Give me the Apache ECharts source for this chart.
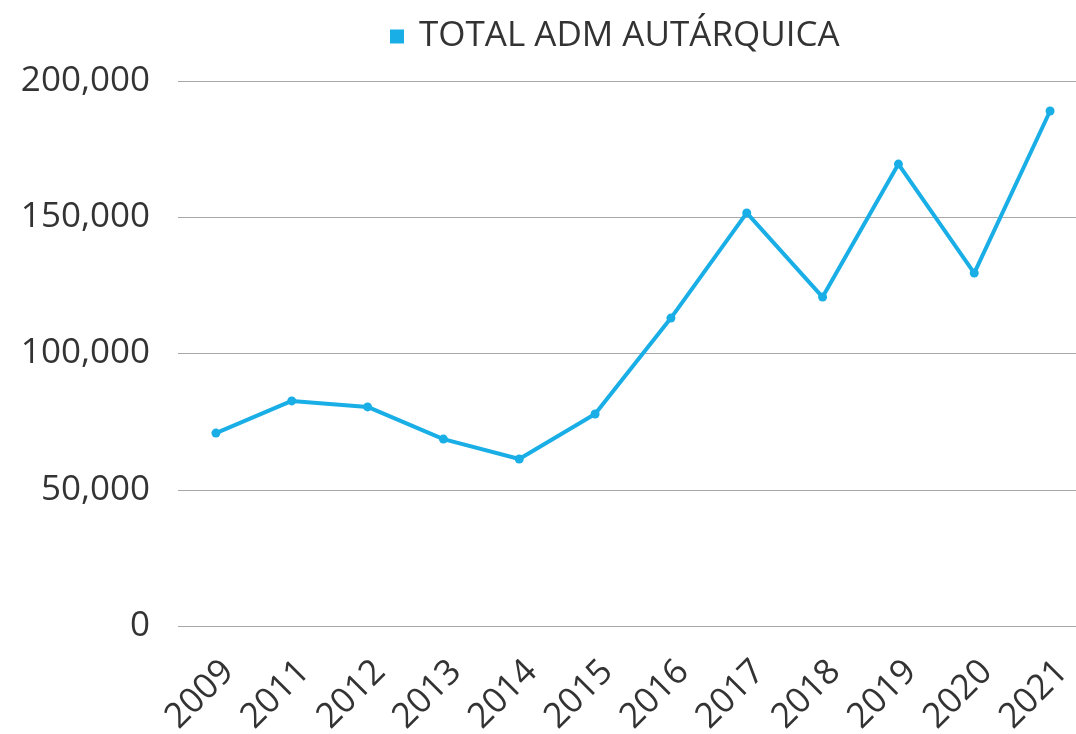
<!DOCTYPE html>
<html>
<head>
<meta charset="utf-8">
<script src="https://cdn.jsdelivr.net/npm/echarts@6/dist/echarts.min.js"></script>
<style>
  html, body { margin: 0; padding: 0; background: #fff; }
  #chart { width: 1076px; height: 734px; }
</style>
</head>
<body>
<div id="chart"></div>
<script>
// anos (2010 não aparece no original)
const years = ['2009', '2011', '2012', '2013', '2014', '2015', '2016', '2017', '2018', '2019', '2020', '2021']
const totalAdm = [70800, 82600, 80400, 68600, 61300, 77800, 113000, 151600, 120700, 169500, 129500, 189000]
const seriesName = 'TOTAL ADM AUTÁRQUICA'

const el = document.getElementById('chart')
const chart = echarts.init(el)
const blue = '#19aee6'
const font = '"Open Sans", sans-serif'

const option = {
  animation: false,
  textStyle: { fontFamily: font },
  legend: {
    data: [seriesName],
    left: 385,
    top: 14,
    itemWidth: 14,
    itemHeight: 14,
    icon: 'rect',
    textStyle: { fontSize: 35, color: '#333', fontFamily: font, padding: [0, 0, 0, 10] }
  },
  grid: {
    left: 178,
    top: 81,
    right: -12,
    bottom: 108,
    containLabel: false,
    outerBoundsMode: 'none'
  },
  xAxis: {
    type: 'category',
    data: years,
    boundaryGap: true,
    axisLine: { show: false },
    axisTick: { show: false },
    axisLabel: {
      rotate: 45,
      margin: 28,
      fontSize: 35,
      verticalAlign: 'top',
      color: '#333',
      fontFamily: font
    }
  },
  yAxis: {
    type: 'value',
    min: 0,
    max: 200000,
    interval: 50000,
    axisLine: { show: false },
    axisTick: { show: false },
    axisLabel: {
      margin: 28,
      fontSize: 35,
      color: '#333',
      fontFamily: font,
      formatter: v => v.toLocaleString('en-US')
    },
    splitLine: { lineStyle: { color: '#a8a8a8', width: 1.2 } }
  },
  series: [
    {
      name: seriesName,
      type: 'line',
      data: totalAdm,
      symbol: 'circle',
      symbolSize: 9,
      itemStyle: { color: blue },
      lineStyle: { color: blue, width: 4 }
    }
  ]
}
chart.setOption(option)
</script>
</body>
</html>
